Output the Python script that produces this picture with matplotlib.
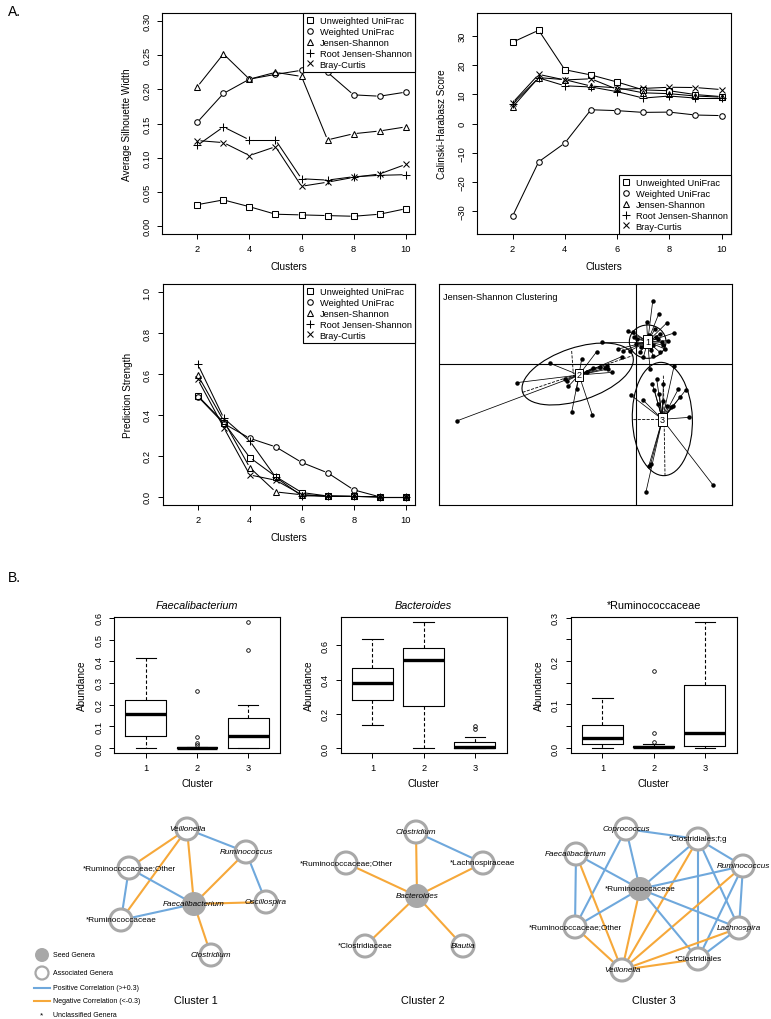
import matplotlib
matplotlib.use('Agg')
import matplotlib.pyplot as plt
from matplotlib.patches import Ellipse, Circle
from matplotlib.lines import Line2D
import numpy as np

plt.rcParams['font.family'] = ['Liberation Sans', 'DejaVu Sans']

# ---------------- data ----------------
clusters = [2, 3, 4, 5, 6, 7, 8, 9, 10]
metric_names = ['Unweighted UniFrac', 'Weighted UniFrac', 'Jensen-Shannon',
                'Root Jensen-Shannon', 'Bray-Curtis']

sil_unweighted = [0.031, 0.038, 0.028, 0.017, 0.016, 0.015, 0.014, 0.017, 0.025]
sil_weighted = [0.152, 0.194, 0.215, 0.222, 0.228, 0.225, 0.192, 0.190, 0.196]
sil_js = [0.204, 0.252, 0.215, 0.225, 0.219, 0.126, 0.135, 0.139, 0.145]
sil_rootjs = [0.118, 0.145, 0.126, 0.126, 0.069, 0.067, 0.072, 0.074, 0.075]
sil_bray = [0.125, 0.122, 0.103, 0.116, 0.058, 0.064, 0.071, 0.076, 0.090]

ch_unweighted = [27.8, 31.9, 18.4, 16.6, 14.2, 11.5, 11.2, 9.9, 9.2]
ch_weighted = [-31.7, -13.1, -6.7, 4.7, 4.4, 3.8, 3.9, 2.9, 2.7]
ch_js = [5.6, 15.7, 15.0, 12.8, 12.2, 10.5, 10.2, 9.4, 9.0]
ch_rootjs = [6.7, 15.6, 12.9, 12.5, 10.9, 8.7, 9.4, 8.7, 8.7]
ch_bray = [7.1, 16.8, 14.9, 15.3, 11.7, 12.0, 12.4, 12.3, 11.6]

ps_unweighted = [0.494, 0.363, 0.192, 0.099, 0.021, 0.004, 0.002, 0.0, 0.0]
ps_weighted = [0.490, 0.358, 0.286, 0.244, 0.168, 0.117, 0.034, 0.0, 0.0]
ps_js = [0.594, 0.370, 0.143, 0.024, 0.010, 0.003, 0.002, 0.0, 0.0]
ps_rootjs = [0.647, 0.384, 0.273, 0.095, 0.005, 0.003, 0.002, 0.0, 0.0]
ps_bray = [0.574, 0.338, 0.107, 0.081, 0.010, 0.003, 0.002, 0.0, 0.0]

# Jensen-Shannon clustering (PCoA coordinates)
c1_x = [0.50, 0.68, 0.92, 1.14, 0.97, 0.87, 0.72, 0.52, 0.42, 0.12, -0.18, -0.23, 0.02,
        -0.08, 0.32, 0.57, 0.72, 0.77, 0.22, 0.00, -0.38, -0.53, -1.03, 0.60, 0.50,
        0.40, 0.65, 0.30, 0.15, 0.82, 0.45, -0.05]
c1_y = [1.87, 1.49, 1.22, 0.92, 0.69, 0.44, 0.34, 0.22, -0.16, 0.34, 0.39, 0.97, 0.74,
        0.94, 1.24, 1.04, 0.89, 0.64, 0.19, 0.59, 0.39, 0.44, 0.66, 0.80, 0.55,
        0.85, 0.75, 0.60, 0.50, 0.55, 0.40, 0.80]
c2_x = [-5.38, -3.58, -1.93, -1.31, -2.58, -1.63, -1.18, -2.03, -2.06, -1.28, -1.08,
        -0.93, -0.83, -0.71, -0.88, -0.43, -1.48, -2.13, -1.78]
c2_y = [-1.72, -0.57, -1.46, -1.54, 0.01, 0.14, 0.36, -0.68, -0.51, -0.12, -0.09,
        -0.14, -0.16, -0.26, -0.06, 0.21, -0.26, -0.46, -0.76]
c3_x = [0.49, 0.62, 0.82, 0.55, 0.70, 1.27, 1.50, 1.12, 1.32, -0.16, 0.20, 0.94, 1.60,
        0.38, 0.44, 0.30, 2.30, 1.14, 0.67, 0.80, 1.04]
c3_y = [-0.61, -0.46, -0.61, -0.78, -0.91, -0.76, -0.78, -1.28, -1.01, -0.94, -1.08,
        -1.26, -1.61, -3.08, -3.01, -3.84, -3.63, -0.08, -1.21, -1.11, -1.31]
centers_x = [0.35, -1.71, 0.79]
centers_y = [0.66, -0.34, -1.67]
center_labels = ['1', '2', '3']

# Boxplot summaries (whislo, q1, med, q3, whishi, fliers)
box_clusters = [1, 2, 3]
fae_stats = [(0.0, 0.055, 0.155, 0.220, 0.415, []),
             (0.0, 0.0, 0.001, 0.003, 0.004, [0.015, 0.024, 0.052, 0.263]),
             (0.0, 0.0, 0.055, 0.138, 0.200, [0.454, 0.580])]
bac_stats = [(0.134, 0.278, 0.379, 0.470, 0.635, []),
             (0.0, 0.245, 0.511, 0.586, 0.734, []),
             (0.0, 0.0, 0.003, 0.035, 0.064, [0.110, 0.128])]
rum_stats = [(0.0, 0.0084, 0.022, 0.052, 0.116, []),
             (0.0, 0.002, 0.003, 0.005, 0.008, [0.0145, 0.035, 0.178]),
             (0.0, 0.004, 0.035, 0.145, 0.289, [])]
box_titles = ['Faecalibacterium', 'Bacteroides', '*Ruminococcaceae']

# Networks: node names, layout positions, edges (i, j, sign)
net1_names = ['Veillonella', 'Ruminococcus', '*Ruminococcaceae;Other', 'Faecalibacterium',
              'Oscillospira', '*Ruminococcaceae', 'Clostridium']
net1_x = [187, 246, 129, 194, 266, 121, 211]
net1_y = [830, 853, 869, 905, 903, 921, 956]
net1_seed = 3
net1_edges = [(0, 1, '+'), (0, 2, '-'), (0, 5, '-'), (0, 3, '-'), (1, 3, '-'), (1, 4, '+'),
              (2, 3, '+'), (2, 5, '+'), (5, 3, '+'), (3, 4, '-'), (3, 6, '-')]

net2_names = ['Clostridium', '*Ruminococcaceae;Other', '*Lachnospiraceae', 'Bacteroides',
              '*Clostridiaceae', 'Blautia']
net2_x = [416, 346, 483, 417, 365, 463]
net2_y = [833, 864, 864, 897, 947, 947]
net2_seed = 3
net2_edges = [(0, 2, '+'), (0, 3, '-'), (1, 3, '-'), (2, 3, '-'), (4, 3, '-'), (5, 3, '-')]

net3_names = ['Coprococcus', '*Clostridiales;f;g', 'Faecalibacterium', 'Ruminococcus',
              '*Ruminococcaceae', '*Ruminococcaceae;Other', 'Lachnospira',
              '*Clostridiales', 'Veillonella']
net3_x = [626, 698, 576, 743, 640, 575, 739, 698, 622]
net3_y = [830, 840, 855, 867, 890, 928, 929, 960, 971]
net3_seed = 4
net3_edges = [(0, 1, '+'), (0, 4, '+'), (0, 5, '+'), (2, 4, '+'), (2, 5, '+'), (2, 8, '-'),
              (1, 4, '+'), (1, 8, '-'), (1, 7, '+'), (1, 6, '+'), (1, 3, '+'),
              (3, 4, '+'), (3, 8, '-'), (3, 6, '+'), (3, 7, '+'), (4, 6, '+'),
              (4, 7, '+'), (4, 8, '-'), (4, 5, '+'), (5, 8, '-'), (6, 8, '-'),
              (6, 7, '+'), (7, 8, '-')]

# ---------------- figure ----------------
W, H = 771, 1020
fig = plt.figure(figsize=(W / 100, H / 100), dpi=100)


def ax_px(l, t, r, b):
    return fig.add_axes([l / W, 1 - b / H, (r - l) / W, (b - t) / H])


FS = 6.7
LFS = 7.2


def rstyle(ax):
    for s in ax.spines.values():
        s.set_linewidth(0.8)
    ax.tick_params(direction='out', length=3.8, width=0.7, labelsize=FS, pad=3.5)
    ax.tick_params(axis='y', labelrotation=90, pad=4)
    for lab in ax.get_yticklabels():
        lab.set_va('center')


markers = ['s', 'o', '^', '+', 'x']
msizes = [4.0, 4.0, 4.6, 6.0, 5.0]
GAP = 3.6  # px gap between line and point (R type="b")


def gapped_line(ax, xs, ys):
    pts = ax.transData.transform(np.column_stack([xs, ys]))
    inv = ax.transData.inverted()
    for p, q in zip(pts[:-1], pts[1:]):
        d = q - p
        L = np.hypot(*d)
        if L <= 2 * GAP:
            continue
        u = d / L
        a = inv.transform(p + u * GAP)
        b = inv.transform(q - u * GAP)
        ax.plot([a[0], b[0]], [a[1], b[1]], color='black', lw=0.75)


def line_panel(ax, series, ylim, yticks, yticklabels, ylabel, legloc):
    ax.set_xlim(0.64, 10.36)
    pad = 0.04 * (ylim[1] - ylim[0])
    ax.set_ylim(ylim[0] - pad, ylim[1] + pad)
    for vals, m, ms in zip(series, markers, msizes):
        gapped_line(ax, clusters, vals)
        ax.plot(clusters, vals, ls='none', color='black', marker=m, ms=ms, mfc='none',
                mew=0.75)
    ax.set_xticks([2, 4, 6, 8, 10])
    ax.set_yticks(yticks)
    ax.set_yticklabels(yticklabels)
    ax.set_xlabel('Clusters', fontsize=LFS, labelpad=6)
    ax.set_ylabel(ylabel, fontsize=LFS, labelpad=7)
    rstyle(ax)
    handles = [Line2D([], [], ls='none', marker=m, color='k', mfc='none', ms=ms, mew=0.75)
               for m, ms in zip(markers, msizes)]
    leg = ax.legend(handles, metric_names, loc=legloc, frameon=True, fancybox=False,
                    edgecolor='black', framealpha=1, borderaxespad=0, fontsize=FS,
                    handlelength=1.0, handletextpad=0.5, labelspacing=0.2,
                    borderpad=0.35)
    leg.get_frame().set_linewidth(0.8)


ax1 = ax_px(162, 14, 415, 235)
line_panel(ax1, [sil_unweighted, sil_weighted, sil_js, sil_rootjs, sil_bray],
           (0.0, 0.30), [0, 0.05, 0.10, 0.15, 0.20, 0.25, 0.30],
           ['0.00', '0.05', '0.10', '0.15', '0.20', '0.25', '0.30'],
           'Average Silhouette Width', 'upper right')

ax2 = ax_px(477, 14, 731, 235)
line_panel(ax2, [ch_unweighted, ch_weighted, ch_js, ch_rootjs, ch_bray],
           (-35, 35), [-30, -20, -10, 0, 10, 20, 30],
           ['\u221230', '\u221220', '\u221210', '0', '10', '20', '30'],
           'Calinski-Harabasz Score', 'lower right')

ax3 = ax_px(162.5, 285, 415, 506)
line_panel(ax3, [ps_unweighted, ps_weighted, ps_js, ps_rootjs, ps_bray],
           (0.0, 1.0), [0, 0.2, 0.4, 0.6, 0.8, 1.0],
           ['0.0', '0.2', '0.4', '0.6', '0.8', '1.0'],
           'Prediction Strength', 'upper right')

# cluster plot
ax4 = ax_px(439.3, 285, 731.7, 506)
ax4.set_xlim(-5.9, 2.87)
ax4.set_ylim(-4.24, 2.39)
ax4.set_xticks([])
ax4.set_yticks([])
for s in ax4.spines.values():
    s.set_linewidth(0.8)
ax4.axhline(0, color='k', lw=0.8)
ax4.axvline(0, color='k', lw=0.8)
groups = [(c1_x, c1_y), (c2_x, c2_y), (c3_x, c3_y)]
for (gx, gy), cx, cy in zip(groups, centers_x, centers_y):
    for px, py in zip(gx, gy):
        ax4.plot([px, cx], [py, cy], color='k', lw=0.55)
    ax4.plot(gx, gy, 'o', color='k', ms=2.2)
ax4.add_patch(Ellipse((0.35, 0.66), 1.10, 1.00, angle=0, fill=False, lw=0.8))
ax4.add_patch(Ellipse((-1.75, -0.31), 3.48, 1.58, angle=18.4, fill=False, lw=0.8))
ax4.add_patch(Ellipse((0.79, -1.66), 1.80, 3.40, angle=2, fill=False, lw=0.8))
# dashed axes of ellipses
ax4.plot([-1.75 - 1.65, -1.75 + 1.65], [-0.31 - 0.55, -0.31 + 0.55], 'k--', lw=0.6)
ax4.plot([-1.93, -1.88], [0.38, -0.31], 'k--', lw=0.6)
ax4.plot([-0.08, 0.79], [-1.68, -1.67], 'k--', lw=0.6)
ax4.plot([0.82, 0.87], [-0.36, -3.36], 'k--', lw=0.6)
for cx, cy, lab in zip(centers_x, centers_y, center_labels):
    ax4.text(cx, cy, lab, ha='center', va='center', fontsize=6.5,
             bbox=dict(boxstyle='square,pad=0.2', fc='white', ec='black', lw=0.7))
ax4.text(0.012, 0.965, 'Jensen-Shannon Clustering', transform=ax4.transAxes,
         fontsize=FS, ha='left', va='top')

# ---------------- boxplots ----------------
box_axes = [ax_px(114, 618.3, 280, 754), ax_px(340.7, 618.3, 506.7, 754),
            ax_px(570.7, 618.3, 736.7, 754)]
all_stats = [fae_stats, bac_stats, rum_stats]
yticks_list = [[0, 0.1, 0.2, 0.3, 0.4, 0.5, 0.6], [0, 0.2, 0.4, 0.6],
               [0, 0.05, 0.1, 0.15, 0.2, 0.25, 0.3]]
ytl_list = [['0.0', '0.1', '0.2', '0.3', '0.4', '0.5', '0.6'], ['0.0', '0.2', '0.4', '0.6'],
            ['0.0', '', '0.1', '', '0.2', '', '0.3']]
for ax, st, title, yt, ytl in zip(box_axes, all_stats, box_titles, yticks_list, ytl_list):
    stats = [dict(whislo=s[0], q1=s[1], med=s[2], q3=s[3], whishi=s[4], fliers=s[5])
             for s in st]
    ax.bxp(stats, positions=box_clusters, widths=0.8, capwidths=0.4, showfliers=True,
           boxprops=dict(lw=0.8, color='k'),
           whiskerprops=dict(ls=(0, (3, 2)), lw=0.8, color='k'),
           capprops=dict(lw=0.8, color='k'),
           medianprops=dict(color='k', lw=2.4, solid_capstyle='butt'),
           flierprops=dict(marker='o', mfc='none', mec='k', ms=2.6, mew=0.6))
    vals = []
    for s in st:
        vals += [s[0], s[4]] + list(s[5])
    lo, hi = min(vals), max(vals)
    pad = 0.04 * (hi - lo)
    ax.set_ylim(lo - pad, hi + pad)
    ax.set_xlim(0.38, 3.62)
    ax.set_xticks(box_clusters)
    ax.set_xticklabels([str(c) for c in box_clusters])
    ax.set_yticks(yt)
    ax.set_yticklabels(ytl)
    ax.set_xlabel('Cluster', fontsize=LFS, labelpad=4)
    ax.set_ylabel('Abundance', fontsize=LFS, labelpad=5)
    style = 'normal' if title.startswith('*') else 'italic'
    ax.set_title(title, fontsize=7.8, style=style, pad=7)
    rstyle(ax)

# ---------------- networks ----------------
axn = fig.add_axes([0, 0, 1, 240 / H])
axn.set_xlim(0, W)
axn.set_ylim(H, 780)
axn.axis('off')

BLUE = '#6fa8dc'
ORANGE = '#f6a83a'
GRAY = '#a8a8a8'
R = 11


def is_italic(name):
    return not name.startswith('*')


def draw_net(names, xs, ys, seed, edges):
    for i, j, sgn in edges:
        axn.plot([xs[i], xs[j]], [ys[i], ys[j]], color=BLUE if sgn == '+' else ORANGE,
                 lw=1.5, zorder=1, solid_capstyle='butt')
    for k, (n, x, y) in enumerate(zip(names, xs, ys)):
        if k == seed:
            axn.add_patch(Circle((x, y), R + 1, fc=GRAY, ec=GRAY, lw=0, zorder=2))
        else:
            axn.add_patch(Circle((x, y), R, fc='white', ec=GRAY, lw=2.2, zorder=2))
        axn.text(x, y, n, ha='center', va='center', fontsize=5.9,
                 style='italic' if is_italic(n) else 'normal', zorder=3)


draw_net(net1_names, net1_x, net1_y, net1_seed, net1_edges)
draw_net(net2_names, net2_x, net2_y, net2_seed, net2_edges)
draw_net(net3_names, net3_x, net3_y, net3_seed, net3_edges)

for x, lab in zip([196, 423, 654], ['Cluster 1', 'Cluster 2', 'Cluster 3']):
    axn.text(x, 1001, lab, ha='center', va='center', fontsize=7.8)

# legend of networks
axn.add_patch(Circle((42, 956), 7, fc=GRAY, ec=GRAY, lw=0))
axn.add_patch(Circle((42, 974), 6.5, fc='white', ec=GRAY, lw=1.6))
axn.plot([34, 50], [989, 989], color=BLUE, lw=1.5)
axn.plot([34, 50], [1002, 1002], color=ORANGE, lw=1.5)
axn.text(42, 1016, '*', ha='center', va='center', fontsize=6)
for y, t in zip([956, 974, 989, 1002, 1016],
                ['Seed Genera', 'Associated Genera', 'Positive Correlation (>+0.3)',
                 'Negative Correlation (<-0.3)', 'Unclassified Genera']):
    axn.text(53, y, t, ha='left', va='center', fontsize=5)

fig.text(8 / W, 1 - 12 / H, 'A.', fontsize=10, ha='left', va='center')
fig.text(8 / W, 1 - 578 / H, 'B.', fontsize=10, ha='left', va='center')

fig.savefig('out.png', dpi=100)
